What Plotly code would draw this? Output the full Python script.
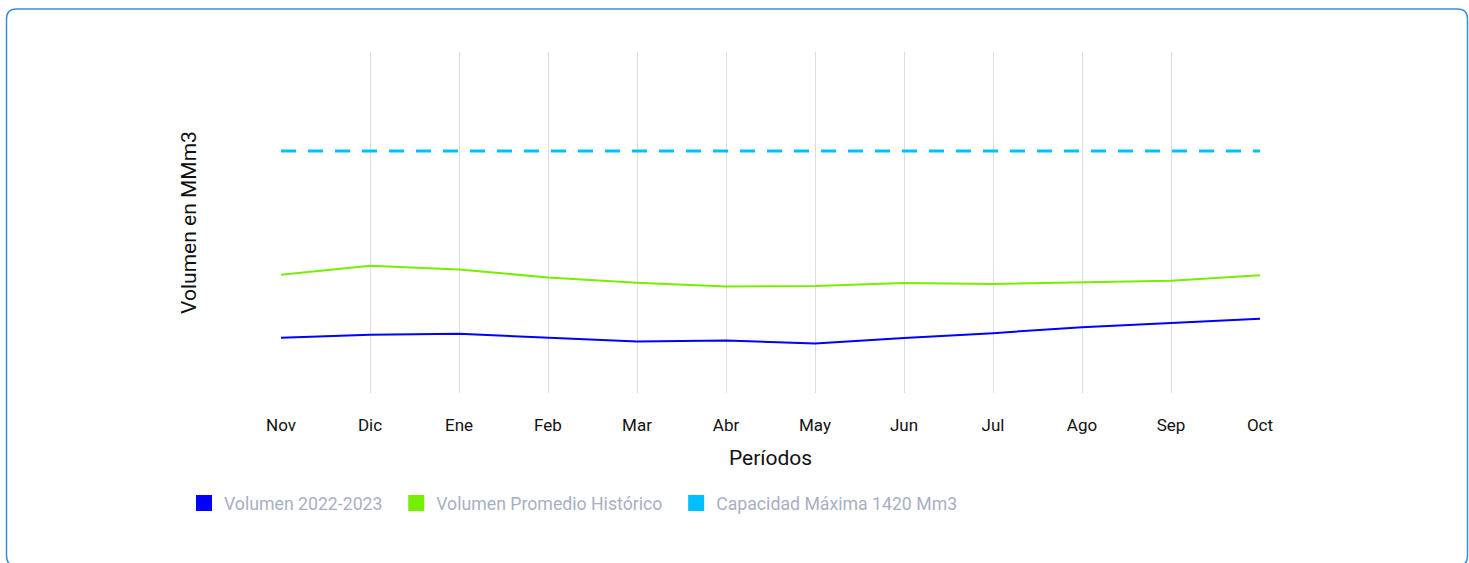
import plotly.graph_objects as go

meses = ["Nov", "Dic", "Ene", "Feb", "Mar", "Abr", "May", "Jun", "Jul", "Ago", "Sep", "Oct"]
volumen_2022_2023 = [324, 341, 347, 324, 302, 308, 291, 322, 351, 386, 412, 435]
volumen_promedio = [694, 747, 724, 678, 647, 624, 628, 645, 640, 651, 659, 690]
capacidad_maxima = [1420] * 12

names = ["Volumen 2022-2023", "Volumen Promedio Histórico", "Capacidad Máxima 1420 Mm3"]
colors = ["#0000ff", "#76ee00", "#00bfff"]

W, H = 1469, 563
L, R, T, B = 281, 1260, 52, 393

fig = go.Figure()
fig.add_trace(go.Scatter(x=meses, y=volumen_2022_2023, mode="lines",
                         line=dict(color=colors[0], width=2), showlegend=False, name=names[0]))
fig.add_trace(go.Scatter(x=meses, y=volumen_promedio, mode="lines",
                         line=dict(color=colors[1], width=2), showlegend=False, name=names[1]))
fig.add_trace(go.Scatter(x=meses, y=capacidad_maxima, mode="lines",
                         line=dict(color=colors[2], width=3, dash="15px,12px"), showlegend=False, name=names[2]))
for n, c in zip(names, colors):
    fig.add_trace(go.Scatter(x=[None], y=[None], mode="markers", name=n + "\u00a0\u00a0",
                             marker=dict(symbol="square", size=20, color=c)))

def px_x(p):
    return (p - L) / (R - L)

def px_y(p):
    return (B - p) / (B - T)

x0, x1, y0, y1, r = 6.5, 1467.5, 9, 566, 10
path = (f"M {px_x(x0+r)},{px_y(y0)} L {px_x(x1-r)},{px_y(y0)} "
        f"Q {px_x(x1)},{px_y(y0)} {px_x(x1)},{px_y(y0+r)} "
        f"L {px_x(x1)},{px_y(y1-r)} Q {px_x(x1)},{px_y(y1)} {px_x(x1-r)},{px_y(y1)} "
        f"L {px_x(x0+r)},{px_y(y1)} Q {px_x(x0)},{px_y(y1)} {px_x(x0)},{px_y(y1-r)} "
        f"L {px_x(x0)},{px_y(y0+r)} Q {px_x(x0)},{px_y(y0)} {px_x(x0+r)},{px_y(y0)} Z")
fig.add_shape(type="path", path=path, xref="paper", yref="paper",
              line=dict(color="#3a8ddb", width=1.5), layer="below")

fig.update_layout(
    width=W, height=H,
    margin=dict(l=L, r=W - R, t=T, b=H - B, pad=0),
    paper_bgcolor="white", plot_bgcolor="white",
    font=dict(family="Roboto", color="#111111", size=17),
    xaxis=dict(
        range=[0, 11], showgrid=True, gridcolor="#dddddd", gridwidth=1,
        showline=False, zeroline=False,
        ticks="outside", ticklen=17, tickcolor="rgba(0,0,0,0)",
        tickfont=dict(size=17, color="#111111"),
        title=dict(text="Períodos", font=dict(size=21, color="#111111"), standoff=15),
    ),
    yaxis=dict(
        range=[0, 2000], showgrid=False, zeroline=False, showline=False,
        showticklabels=False,
        title=dict(text="Volumen en MMm3", font=dict(size=21, color="#111111"), standoff=77),
    ),
    legend=dict(orientation="h", x=(184 - L) / (R - L), xanchor="left",
                y=(B - 485) / (B - T), yanchor="top",
                font=dict(size=17.7, color="#a8afc2"), itemwidth=30,
                tracegroupgap=0),
)

fig.write_html("out.html", config={"displayModeBar": False},
               post_script="document.body.style.margin='0';")
